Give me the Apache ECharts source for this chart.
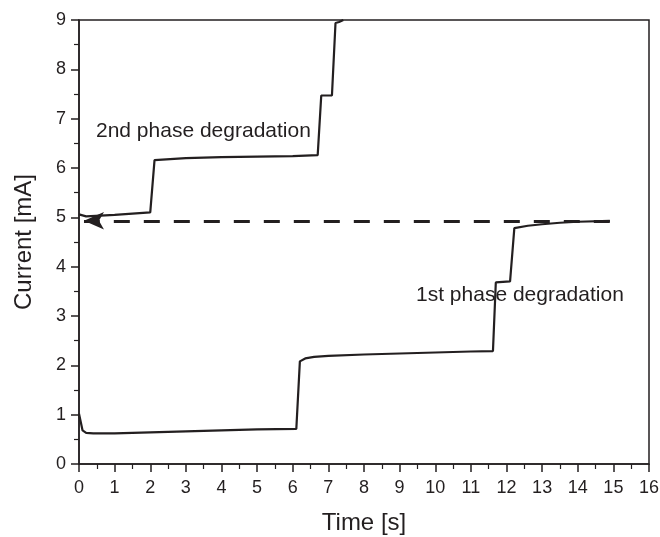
<!DOCTYPE html>
<html><head><meta charset="utf-8">
<script src="https://cdn.jsdelivr.net/npm/echarts@6/dist/echarts.min.js"></script>
<style>html,body{margin:0;padding:0;background:#fff}#c{width:660px;height:537px}</style>
</head><body><div id="c"></div>
<script>
// 1st phase degradation: [time s, current mA]
const phase1 = [[0,1.02],[0.1,0.68],[0.2,0.63],[0.4,0.62],[1,0.62],[2,0.64],[3,0.66],[4,0.68],[5,0.70],[6.1,0.71],
  [6.2,2.08],[6.35,2.14],[6.6,2.17],[7,2.19],[8,2.22],[9,2.24],[10,2.26],[11,2.28],[11.62,2.29],
  [11.7,3.68],[12.1,3.70],[12.22,4.78],[12.6,4.83],[13,4.86],[13.5,4.89],[14,4.91],[14.9,4.93]];
// 2nd phase degradation
const phase2 = [[0,5.06],[0.2,5.02],[1,5.05],[2.0,5.10],[2.12,6.16],[3,6.20],[4,6.22],[5,6.23],[6.0,6.24],[6.7,6.26],
  [6.8,7.47],[7.1,7.47],[7.2,8.94],[7.3,8.96],[7.42,9.0]];
// dashed arrow (from, to)
const arrowFrom = [14.9, 4.93];
const arrowTo = [0.14, 4.93];
const xTicks = [0,1,2,3,4,5,6,7,8,9,10,11,12,13,14,15,16];
const yTicks = [0,1,2,3,4,5,6,7,8,9];
const labels = [
  {text:'2nd phase degradation', x:96, y:133},
  {text:'1st phase degradation', x:416, y:297}
];

const C = '#231f20';
const font = 'Liberation Sans, Arial, sans-serif';
const chart = echarts.init(document.getElementById('c'), null, {renderer:'canvas'});
chart.setOption({
  animation:false,
  backgroundColor:'#fff',
  grid:{left:79,right:11,top:20,bottom:73,containLabel:false,outerBoundsMode:'none',show:true,borderColor:C,borderWidth:1.5,backgroundColor:'transparent'},
  xAxis:[{
    type:'value',min:xTicks[0],max:xTicks[xTicks.length-1],interval:1,
    name:'Time [s]',nameLocation:'middle',nameGap:47,
    nameTextStyle:{fontFamily:font,fontSize:24,color:C},
    axisLine:{show:true,onZero:false,lineStyle:{color:C,width:1.5}},
    axisTick:{show:true,length:8,lineStyle:{color:C,width:1.5}},
    minorTick:{show:true,splitNumber:2,length:5,lineStyle:{color:C,width:1.2}},
    axisLabel:{fontFamily:font,fontSize:18,color:C,margin:15},
    splitLine:{show:false}
  }],
  yAxis:[{
    type:'value',min:yTicks[0],max:yTicks[yTicks.length-1],interval:1,
    name:'Current [mA]',nameLocation:'middle',nameGap:43,
    nameTextStyle:{fontFamily:font,fontSize:24,color:C},
    axisLine:{show:true,onZero:false,lineStyle:{color:C,width:1.5}},
    axisTick:{show:true,length:8,lineStyle:{color:C,width:1.5}},
    minorTick:{show:true,splitNumber:2,length:5,lineStyle:{color:C,width:1.2}},
    axisLabel:{fontFamily:font,fontSize:18,color:C,margin:13},
    splitLine:{show:false}
  }],
  series:[
    {type:'line',data:phase1,showSymbol:false,symbol:'none',clip:true,lineStyle:{color:C,width:2.2}},
    {type:'line',data:phase2,showSymbol:false,symbol:'none',clip:true,lineStyle:{color:C,width:2.2},
      markLine:{silent:true,symbol:['none','arrow'],symbolSize:[13,20],
        label:{show:false},
        lineStyle:{color:C,width:3,type:[16,14]},
        data:[[{coord:arrowFrom},{coord:arrowTo}]]}}
  ],
  graphic: labels.map(l=>({type:'text',left:l.x,top:l.y-12,style:{text:l.text,font:'21px '+font,fill:C}}))
});
</script></body></html>
